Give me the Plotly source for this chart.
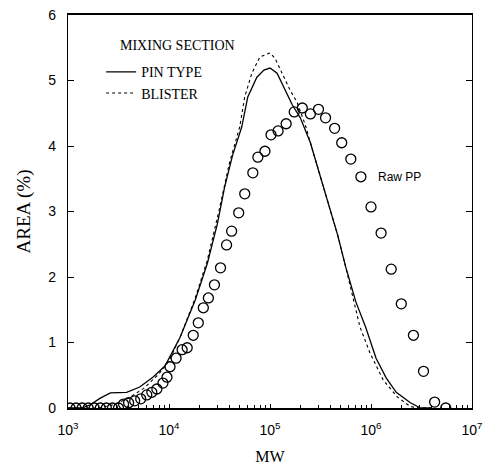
import numpy as np
import plotly.graph_objects as go

# log10(MW) positions and AREA (%)
raw_log_mw = [3.02, 3.08, 3.14, 3.20, 3.26, 3.32, 3.38, 3.44, 3.50, 3.55, 3.60, 3.66,
              3.72, 3.78, 3.83, 3.88, 3.94, 3.98, 4.01, 4.07, 4.13, 4.18, 4.24, 4.29,
              4.34, 4.39, 4.45, 4.51, 4.57, 4.62, 4.69, 4.75, 4.83, 4.88, 4.95, 5.01,
              5.08, 5.16, 5.24, 5.32, 5.40, 5.48, 5.55, 5.64, 5.71, 5.80, 5.90, 6.00,
              6.10, 6.20, 6.30, 6.42, 6.52, 6.63, 6.74]
raw_area = [0.0, 0.0, 0.0, 0.0, 0.0, 0.0, 0.0, 0.0, 0.0, 0.06, 0.08, 0.11,
            0.14, 0.20, 0.24, 0.29, 0.38, 0.47, 0.63, 0.76, 0.89, 0.92, 1.11, 1.30,
            1.53, 1.68, 1.88, 2.14, 2.49, 2.70, 2.98, 3.27, 3.59, 3.83, 3.92, 4.17,
            4.23, 4.34, 4.52, 4.58, 4.49, 4.56, 4.43, 4.27, 4.05, 3.80, 3.53, 3.07,
            2.67, 2.12, 1.59, 1.11, 0.56, 0.09, 0.00]

pin_log_mw = [3.00, 3.14, 3.22, 3.32, 3.42, 3.58, 3.71, 3.84, 3.96, 4.11, 4.26, 4.38,
              4.48, 4.55, 4.63, 4.72, 4.78, 4.87, 4.94, 5.00, 5.07, 5.15, 5.22, 5.30,
              5.40, 5.48, 5.56, 5.67, 5.75, 5.85, 5.95, 6.05, 6.15, 6.25, 6.39, 6.49, 6.60]
pin_area = [0.0, 0.0, 0.05, 0.15, 0.23, 0.24, 0.32, 0.47, 0.64, 1.08, 1.65, 2.21,
            2.82, 3.37, 3.86, 4.29, 4.75, 5.05, 5.16, 5.19, 5.11, 4.85, 4.63, 4.43,
            4.05, 3.63, 3.22, 2.64, 2.15, 1.62, 1.22, 0.76, 0.46, 0.24, 0.08, 0.0, 0.0]

blister_log_mw = [3.00, 3.30, 3.45, 3.60, 3.75, 3.90, 4.00, 4.11, 4.26, 4.38, 4.49,
                  4.60, 4.70, 4.75, 4.82, 4.90, 5.00, 5.05, 5.12, 5.20, 5.27, 5.35,
                  5.40, 5.48, 5.56, 5.67, 5.75, 5.89, 5.99, 6.12, 6.26, 6.39, 6.49, 6.60]
blister_area = [0.0, 0.0, 0.05, 0.15, 0.30, 0.52, 0.72, 1.08, 1.68, 2.26, 2.98,
                3.75, 4.29, 4.75, 5.11, 5.36, 5.42, 5.34, 5.11, 4.85, 4.66, 4.32,
                4.05, 3.63, 3.22, 2.64, 2.15, 1.24, 0.84, 0.43, 0.17, 0.02, 0.0, 0.0]

x_tick_vals = [1e3, 1e4, 1e5, 1e6, 1e7]
x_tick_text = ["10<sup>3</sup>", "10<sup>4</sup>", "10<sup>5</sup>", "10<sup>6</sup>", "10<sup>7</sup>"]

fig = go.Figure()
fig.add_trace(go.Scatter(x=np.power(10.0, pin_log_mw), y=pin_area, mode="lines",
                         name="PIN TYPE", line=dict(color="black", width=1.3)))
fig.add_trace(go.Scatter(x=np.power(10.0, blister_log_mw), y=blister_area, mode="lines",
                         name="BLISTER", line=dict(color="black", width=1.1, dash="dot")))
fig.add_trace(go.Scatter(x=np.power(10.0, raw_log_mw), y=raw_area, mode="markers",
                         name="Raw PP", showlegend=False,
                         marker=dict(symbol="circle-open", size=10, color="black",
                                     line=dict(width=1.3))))

fig.add_annotation(x=6.05, y=3.53, xref="x", yref="y", text="Raw PP", showarrow=False,
                   xanchor="left", font=dict(family="Liberation Sans", size=12, color="black"))
fig.add_annotation(x=0.124, y=0.947, xref="paper", yref="paper", text="MIXING SECTION",
                   showarrow=False, xanchor="left",
                   font=dict(family="Liberation Serif", size=14, color="black"))

fig.update_layout(
    width=486, height=471,
    margin=dict(l=68, r=14, t=15, b=63),
    paper_bgcolor="white", plot_bgcolor="white",
    font=dict(family="Liberation Sans", color="black"),
    legend=dict(x=0.082, y=0.895, xanchor="left", yanchor="top",
                bgcolor="rgba(0,0,0,0)", tracegroupgap=0, itemwidth=30,
                font=dict(family="Liberation Serif", size=14, color="black")),
)
fig.update_xaxes(type="log", range=[3, 7], tickvals=x_tick_vals, ticktext=x_tick_text,
                 ticks="inside", ticklen=4, tickcolor="black", ticklabelstandoff=8,
                 ticklabeloverflow="allow",
                 showline=True, linecolor="black", linewidth=1.5, mirror=True,
                 showgrid=False, zeroline=False, automargin=False,
                 tickfont=dict(family="Liberation Sans", size=14),
                 minor=dict(ticks="inside", ticklen=3, tickcolor="black", showgrid=False, dtick="D1"),
                 title=dict(text="MW", font=dict(family="Liberation Serif", size=16), standoff=14))
fig.update_yaxes(range=[0, 6], dtick=1, ticks="inside", ticklen=6, tickcolor="black",
                 ticklabelstandoff=8, ticklabeloverflow="allow",
                 showline=True, linecolor="black", linewidth=1.2, mirror="ticks",
                 showgrid=False, zeroline=False, automargin=False,
                 tickfont=dict(family="Liberation Sans", size=14),
                 title=dict(text="AREA (%)", font=dict(family="Liberation Serif", size=19), standoff=12))

# drop the default body margin so the figure sits at the page origin
fig.write_html("out.html", config={"displayModeBar": False},
               post_script="document.body.style.margin='0px';document.body.style.overflow='hidden';")
